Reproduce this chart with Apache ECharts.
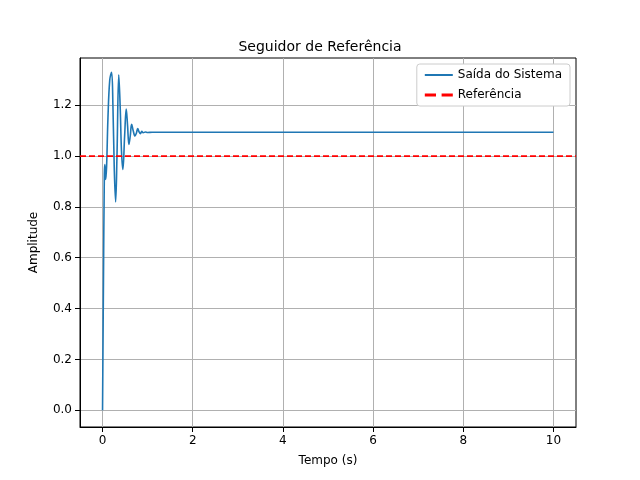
<!DOCTYPE html><html><head><meta charset="utf-8"><script src="https://cdn.jsdelivr.net/npm/echarts@6/dist/echarts.min.js"></script></head><body style="margin:0"><div id="c" style="width:640px;height:480px"></div><script>
const tVals=[0,0.02,0.04,0.05,0.06,0.07,0.09,0.12,0.16,0.2,0.23,0.26,0.29,0.32,0.36,0.39,0.42,0.45,0.49,0.525,0.555,0.585,0.615,0.645,0.68,0.72,0.75,0.78,0.81,0.84,0.87,0.9,0.95,1.0,1.1,1.5,10];
const yVals=[0,0.5,0.93,0.967,0.94,0.908,0.96,1.15,1.3,1.33,1.2,0.95,0.82,1.0,1.32,1.2,1.02,0.947,1.08,1.185,1.12,1.046,1.08,1.125,1.1,1.079,1.09,1.108,1.095,1.088,1.098,1.092,1.095,1.093,1.094,1.094,1.094];
const refVal=1.0;
const c=echarts.init(document.getElementById('c'));
c.setOption({animation:false,
title:{text:'Seguidor de Referência',left:'center',top:35,textStyle:{fontFamily:'DejaVu Sans',fontSize:14,fontWeight:'normal',color:'#000'}},
legend:{right:70,top:64,orient:'vertical',backgroundColor:'#fff',borderColor:'#ccc',borderWidth:1,borderRadius:3,padding:[5,8],itemWidth:28,itemGap:8,textStyle:{fontFamily:'DejaVu Sans',fontSize:12,color:'#000'},
data:[{name:'Saída do Sistema',icon:'path://M0,0H28V2H0Z'},{name:'Referência',icon:'path://M0,0H8V2H0ZM12,0H20V2H12Z'}]},
grid:{left:80,right:64,top:58,bottom:53,show:true,borderColor:'#000',borderWidth:1},
xAxis:{type:'value',min:-0.5,max:10.5,interval:2,axisLabel:{fontFamily:'DejaVu Sans',fontSize:12,color:'#000',customValues:[0,2,4,6,8,10]},axisTick:{customValues:[0,2,4,6,8,10]},splitLine:{show:true,lineStyle:{color:'#b0b0b0'}},axisLine:{onZero:false,lineStyle:{color:'#000'}},name:'Tempo (s)',nameLocation:'middle',nameGap:28,nameTextStyle:{fontFamily:'DejaVu Sans',fontSize:12,color:'#000'}},
yAxis:{type:'value',min:-0.066,max:1.386,axisLabel:{fontFamily:'DejaVu Sans',fontSize:12,color:'#000',formatter:v=>v.toFixed(1),customValues:[0,0.2,0.4,0.6,0.8,1.0,1.2]},axisTick:{show:true,customValues:[0,0.2,0.4,0.6,0.8,1.0,1.2]},splitLine:{show:true,lineStyle:{color:'#b0b0b0'}},axisLine:{show:true,onZero:false,lineStyle:{color:'#000'}},name:'Amplitude',nameLocation:'middle',nameGap:40,nameTextStyle:{fontFamily:'DejaVu Sans',fontSize:12,color:'#000'}},
series:[{name:'Saída do Sistema',type:'line',smooth:0.4,showSymbol:false,color:'#1f77b4',lineStyle:{width:1.6},data:tVals.map((t,i)=>[t,yVals[i]])},
{name:'Referência',type:'line',showSymbol:false,color:'#ff0000',lineStyle:{width:1.6,type:[6,3]},data:[[-0.5,refVal],[10.5,refVal]]}]});
</script></body></html>
